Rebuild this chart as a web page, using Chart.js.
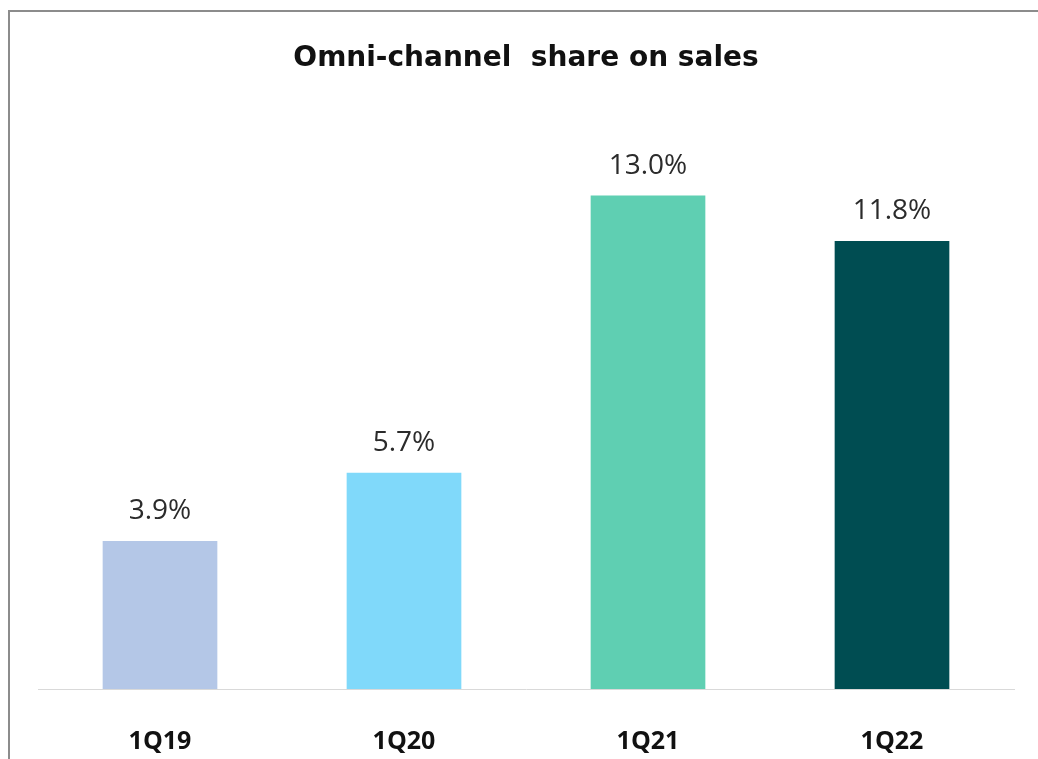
<!DOCTYPE html>
<html>
<head>
<meta charset="utf-8">
<title>Omni-channel share on sales</title>
<script src="https://cdn.jsdelivr.net/npm/chart.js@4.4.1/dist/chart.umd.min.js"></script>
<style>
  html, body { margin: 0; padding: 0; background: #ffffff; }
  #wrap { position: relative; width: 1038px; height: 759px; overflow: hidden; }
  #frame {
    position: absolute; left: 8px; top: 10px; width: 1100px; height: 800px;
    border-left: 2px solid #8c8c8c; border-top: 2px solid #8c8c8c;
  }
  canvas { position: absolute; left: 0; top: 0; }
</style>
</head>
<body>
<div id="wrap">
  <div id="frame"></div>
  <canvas id="chart" width="1038" height="759"></canvas>
</div>
<script>
const quarters = ['1Q19', '1Q20', '1Q21', '1Q22'];
const omniShare = [3.9, 5.7, 13.0, 11.8];
const barColors = ['#b4c7e7', '#80d9fa', '#5fcfb2', '#004d52'];

// writes the percentage above each bar
const valueLabels = {
  id: 'valueLabels',
  afterDatasetsDraw(chart) {
    const { ctx } = chart;
    const meta = chart.getDatasetMeta(0);
    ctx.save();
    ctx.font = '28px "Open Sans", sans-serif';
    ctx.fillStyle = '#2b2b2b';
    ctx.textAlign = 'center';
    ctx.textBaseline = 'alphabetic';
    meta.data.forEach((bar, i) => {
      ctx.fillText(omniShare[i].toFixed(1) + '%', bar.x, bar.y - 22);
    });
    ctx.restore();
  }
};

const ctx = document.getElementById('chart').getContext('2d');
new Chart(ctx, {
  type: 'bar',
  data: {
    labels: quarters,
    datasets: [{
      data: omniShare,
      backgroundColor: barColors,
      borderWidth: 0,
      barPercentage: 0.94,
      categoryPercentage: 0.5
    }]
  },
  options: {
    responsive: false,
    animation: false,
    layout: { padding: { left: 38, right: 24, top: 0, bottom: 0 } },
    plugins: {
      legend: { display: false },
      tooltip: { enabled: false },
      title: {
        display: true,
        text: 'Omni-channel  share on sales',
        color: '#111111',
        font: { family: '"DejaVu Sans", sans-serif', size: 28, weight: 'bold' },
        padding: { top: 42, bottom: 44 }
      }
    },
    scales: {
      y: {
        display: false,
        min: 0,
        max: 15
      },
      x: {
        grid: { display: false, drawTicks: false },
        border: { display: true, color: '#d9d9d9', width: 1 },
        ticks: {
          color: '#111111',
          padding: 38,
          font: { family: '"Open Sans", sans-serif', size: 25, weight: 'bold' }
        },
        afterFit(scale) {
          scale.height = 70;
        }
      }
    }
  },
  plugins: [valueLabels]
});
</script>
</body>
</html>
